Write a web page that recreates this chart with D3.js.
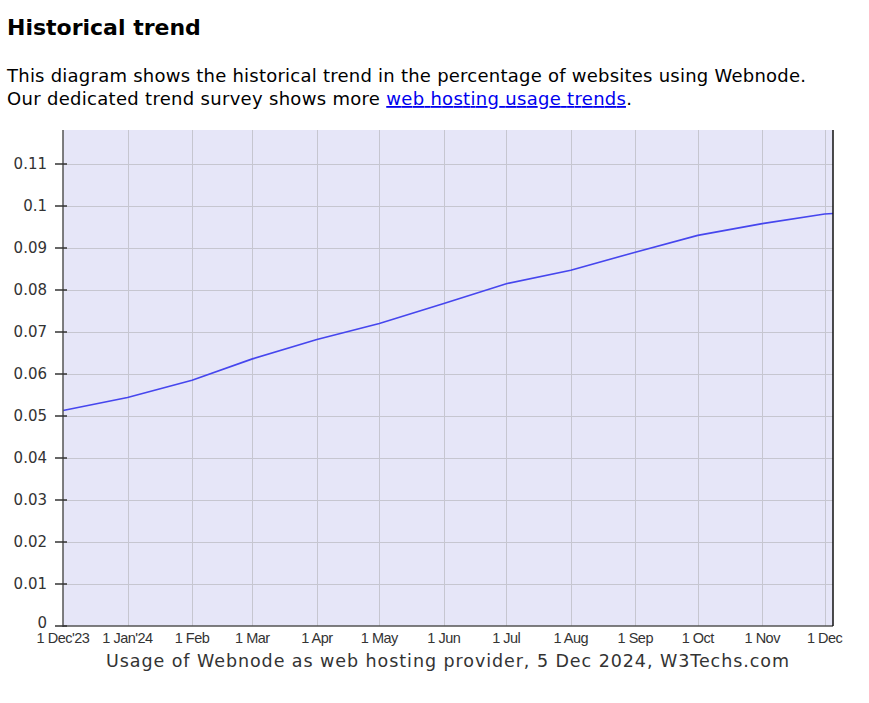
<!DOCTYPE html>
<html>
<head>
<meta charset="utf-8">
<script src="https://cdn.jsdelivr.net/npm/d3@7"></script>
<style>
  html, body { margin: 0; padding: 0; background: #fff; }
  svg { display: block; }
</style>
</head>
<body>
<svg id="chart" width="869" height="703"></svg>
<script>
// ---- data ----
const dates = ["2023-12-01","2024-01-01","2024-02-01","2024-03-01","2024-04-01","2024-05-01",
  "2024-06-01","2024-07-01","2024-08-01","2024-09-01","2024-10-01","2024-11-01","2024-12-01","2024-12-05"];
const values = [0.0513, 0.0544, 0.0585, 0.0636, 0.0682, 0.0720, 0.0768, 0.0815, 0.0847, 0.0890, 0.0930, 0.0958, 0.0981, 0.0982];
const xTickDates = ["2023-12-01","2024-01-01","2024-02-01","2024-03-01","2024-04-01","2024-05-01",
  "2024-06-01","2024-07-01","2024-08-01","2024-09-01","2024-10-01","2024-11-01","2024-12-01"];
const xTickLabels = ["1 Dec'23","1 Jan'24","1 Feb","1 Mar","1 Apr","1 May","1 Jun","1 Jul","1 Aug","1 Sep","1 Oct","1 Nov","1 Dec"];
const yTicks = [0, 0.01, 0.02, 0.03, 0.04, 0.05, 0.06, 0.07, 0.08, 0.09, 0.1, 0.11];
const yTickLabels = ["0","0.01","0.02","0.03","0.04","0.05","0.06","0.07","0.08","0.09","0.1","0.11"];
const titleText = "Historical trend";
const para1 = "This diagram shows the historical trend in the percentage of websites using Webnode.";
const para2a = "Our dedicated trend survey shows more ";
const para2link = "web hosting usage trends";
const para2b = ".";
const caption = "Usage of Webnode as web hosting provider, 5 Dec 2024, W3Techs.com";

const parse = d3.utcParse("%Y-%m-%d");
const svg = d3.select("#chart");

// text header
svg.append("text").attr("x", 7).attr("y", 35)
  .attr("font-family", "DejaVu Sans").attr("font-weight", "bold").attr("font-size", 22)
  .attr("fill", "#000").text(titleText);
svg.append("text").attr("x", 7).attr("y", 82)
  .attr("font-family", "DejaVu Sans").attr("font-size", 18).attr("fill", "#000")
  .attr("textLength", 799).attr("lengthAdjust", "spacing")
  .text(para1);
const p2 = svg.append("text").attr("x", 7).attr("y", 105)
  .attr("font-family", "DejaVu Sans").attr("font-size", 18).attr("fill", "#000")
  .attr("textLength", 625).attr("lengthAdjust", "spacing");
p2.append("tspan").text(para2a);
p2.append("tspan").attr("fill", "#0000ee").attr("text-decoration", "underline").text(para2link);
p2.append("tspan").text(para2b);

// scales
const x0 = 63, x1 = 833, yBottom = 626, yTop = 130;
const x = d3.scaleUtc().domain([parse("2023-12-01"), parse("2024-12-05")]).range([x0, x1]);
const y = d3.scaleLinear().domain([0, (yBottom - yTop) / 4200]).range([yBottom, yTop]);

// background
svg.append("rect").attr("x", x0).attr("y", yTop).attr("width", x1 - x0).attr("height", yBottom - yTop)
  .attr("fill", "#e6e6f8");

// gridlines
svg.append("g").selectAll("line").data(yTicks.slice(1)).join("line")
  .attr("x1", x0).attr("x2", x1).attr("y1", d => y(d) + 0.5).attr("y2", d => y(d) + 0.5)
  .attr("stroke", "#c6c6d0").attr("stroke-width", 1);
svg.append("g").selectAll("line").data(xTickDates.slice(1)).join("line")
  .attr("x1", d => Math.round(x(parse(d))) + 0.5).attr("x2", d => Math.round(x(parse(d))) + 0.5)
  .attr("y1", yTop).attr("y2", yBottom)
  .attr("stroke", "#c6c6d0").attr("stroke-width", 1);

// line
const line = d3.line().x((d, i) => x(parse(dates[i]))).y(d => y(d));
svg.append("path").datum(values).attr("d", line)
  .attr("fill", "none").attr("stroke", "#4646ee").attr("stroke-width", 1.6);

// axes lines
svg.append("line").attr("x1", x0).attr("x2", x0).attr("y1", yTop).attr("y2", yBottom + 1)
  .attr("stroke", "#555").attr("stroke-width", 1.5);
svg.append("line").attr("x1", x0).attr("x2", x1).attr("y1", yBottom).attr("y2", yBottom)
  .attr("stroke", "#555").attr("stroke-width", 1.5);
svg.append("line").attr("x1", x1).attr("x2", x1).attr("y1", yTop).attr("y2", yBottom)
  .attr("stroke", "#111").attr("stroke-width", 1.5);

// y ticks + labels
const yg = svg.append("g");
yg.selectAll("line").data(yTicks).join("line")
  .attr("x1", 55).attr("x2", 67).attr("y1", d => y(d)).attr("y2", d => y(d))
  .attr("stroke", "#333").attr("stroke-width", 1.5);
yg.selectAll("text").data(yTicks).join("text")
  .attr("x", 47).attr("y", (d, i) => i === 0 ? y(d) - 3 : y(d))
  .attr("dy", "0.35em").attr("text-anchor", "end")
  .attr("font-family", "DejaVu Sans").attr("font-size", 15).attr("fill", "#333")
  .text((d, i) => yTickLabels[i]);

// x tick labels
svg.append("g").selectAll("text").data(xTickDates).join("text")
  .attr("x", d => x(parse(d))).attr("y", 643)
  .attr("text-anchor", "middle")
  .attr("font-family", "Liberation Sans, Arial, sans-serif")
  .attr("font-size", 14.5).attr("letter-spacing", "-0.5px").attr("fill", "#333")
  .text((d, i) => xTickLabels[i]);

// caption
svg.append("text").attr("x", 106).attr("y", 667)
  .attr("font-family", "DejaVu Sans").attr("font-size", 17.5).attr("fill", "#333")
  .attr("textLength", 683).attr("lengthAdjust", "spacing")
  .text(caption);
</script>
</body>
</html>
